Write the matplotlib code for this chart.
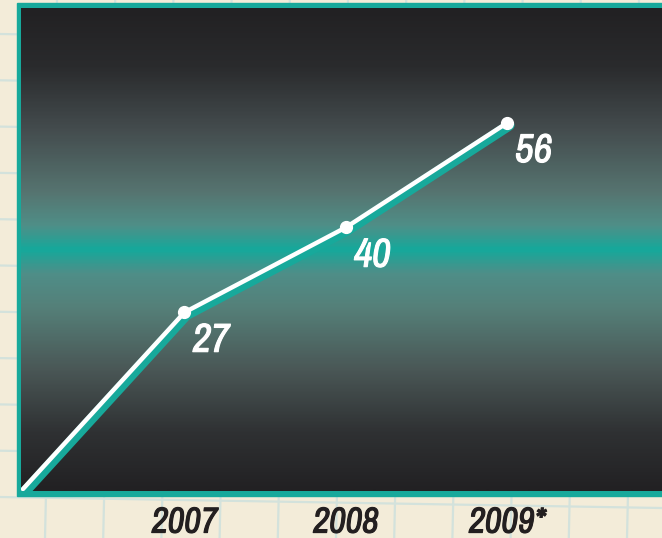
import numpy as np
import matplotlib
matplotlib.use("Agg")
import matplotlib.pyplot as plt
import matplotlib.patheffects as pe
from matplotlib import font_manager
from matplotlib.colors import LinearSegmentedColormap
from matplotlib.patches import Rectangle
from matplotlib.transforms import ScaledTranslation

# data
years = [2006, 2007, 2008, 2009]
values = [0, 27, 40, 56]
tick_years = [2007, 2008, 2009]
tick_labels = ["2007", "2008", "2009*"]

cream = "#f3ecd9"
teal = "#17a99b"
paper_line = "#d3e2dc"
ink = "#231f20"

names = sorted({f.name for f in font_manager.fontManager.ttflist})
narrow = [n for n in names if "Narrow" in n or "Condensed" in n]
hand_font = narrow[:1] + ["DejaVu Sans"]

W, H = 662, 538
fig = plt.figure(figsize=(W / 100, H / 100), dpi=100)
fig.patch.set_facecolor(cream)

# graph-paper backdrop, in pixel coords
bg = fig.add_axes([0, 0, 1, 1])
bg.set_xlim(0, W)
bg.set_ylim(H, 0)
bg.axis("off")
for xt in np.arange(-1, 13) * 58.2 + 57:
    bg.plot([xt, xt - 12], [0, H], color=paper_line, lw=1.6, zorder=1)
for yl in np.arange(-1, 13) * 46.3 + 34:
    bg.plot([0, W], [yl, yl + 11], color=paper_line, lw=1.6, zorder=1)
bg.add_patch(Rectangle((17, 3), 700, 493, color=teal, zorder=2))

# main panel
ax = fig.add_axes([21 / W, (H - 491) / H, (680 - 21) / W, (491 - 8) / H])
x0, x1 = 2005.988, 2010.07
y0, y1 = -0.3, 73.55
ax.set_xlim(x0, x1)
ax.set_ylim(y0, y1)

stops = [(0.0, "#222123"), (0.12, "#2a2b2d"), (0.25, "#444c4e"),
         (0.38, "#567470"), (0.45, "#4f8f88"), (0.5, "#15a99b"),
         (0.55, "#4f8e88"), (0.62, "#558079"), (0.75, "#4a5756"),
         (0.88, "#2f3133"), (1.0, "#222123")]
cmap = LinearSegmentedColormap.from_list("panel", stops)
grad = np.linspace(0, 1, 400)[:, None]
ax.imshow(grad, extent=[x0, x1, y0, y1], aspect="auto", cmap=cmap,
          origin="upper", zorder=0, interpolation="bilinear")

shadow = ax.transData + ScaledTranslation(0.02, -0.025, fig.dpi_scale_trans)
ax.plot(years, values, color=teal, lw=7.6, solid_capstyle="round",
        transform=shadow, zorder=2)
ax.plot(years, values, color="white", lw=3.2, solid_capstyle="round", zorder=3)
ax.plot(years[1:], values[1:], "o", color="white", ms=8.5, zorder=4)

for x, v in zip(years[1:], values[1:]):
    ax.annotate(str(v), (x, v), xytext=(19, -20), textcoords="offset points",
                ha="center", va="center", color="white", fontsize=29,
                fontweight="bold", fontstyle="italic", family=hand_font, zorder=5,
                path_effects=[pe.withStroke(linewidth=0.8, foreground="white")])

ax.set_xticks(tick_years)
ax.set_xticklabels(tick_labels, color=ink, fontsize=26, fontweight="bold",
                   fontstyle="italic", family=hand_font)
for lab in ax.get_xticklabels():
    lab.set_path_effects([pe.withStroke(linewidth=0.8, foreground=ink)])
ax.set_yticks([])
ax.tick_params(axis="x", length=0, pad=10.5)
for s in ax.spines.values():
    s.set_visible(False)

fig.savefig("out.png", dpi=100, facecolor=cream)
